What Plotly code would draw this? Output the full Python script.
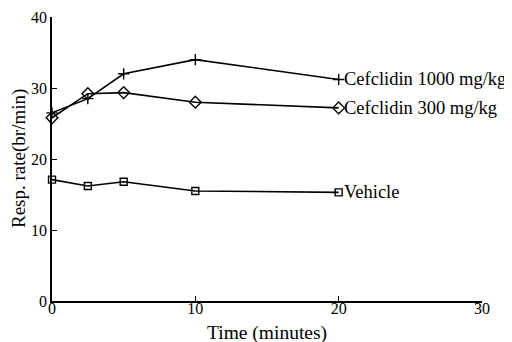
import plotly.graph_objects as go

time = [0, 2.5, 5, 10, 20]
cef1000 = [26.5, 28.5, 32.0, 34.0, 31.2]
cef300 = [25.8, 29.2, 29.35, 28.0, 27.2]
vehicle = [17.1, 16.2, 16.8, 15.5, 15.3]
names = ["Cefclidin 1000 mg/kg", "Cefclidin 300 mg/kg", "Vehicle"]
x_ticks = [0, 10, 20, 30]
y_ticks = [0, 10, 20, 30, 40]

FONT = "Liberation Serif"
fig = go.Figure()
series = [
    (cef1000, "cross-thin-open", 8),
    (cef300, "diamond-open", 9),
    (vehicle, "square-open", 7),
]
for (vals, sym, sz), nm in zip(series, names):
    fig.add_trace(go.Scatter(
        x=time, y=vals, mode="lines+markers", name=nm,
        line=dict(color="black", width=1.6),
        marker=dict(symbol=sym, size=sz, color="black",
                    line=dict(color="black", width=1.4)),
        showlegend=False, cliponaxis=False,
    ))
    fig.add_annotation(x=time[-1], y=vals[-1], text=nm, showarrow=False,
                       xanchor="left", yanchor="middle", xshift=3,
                       font=dict(family=FONT, size=18.5, color="black"))

fig.add_annotation(xref="paper", yref="paper", x=0.5, y=0, yshift=-32,
                   xanchor="center", yanchor="middle", showarrow=False,
                   text="Time (minutes)",
                   font=dict(family=FONT, size=19.5, color="black"))
fig.add_annotation(xref="paper", yref="paper", x=0, y=0.5, xshift=-33,
                   xanchor="center", yanchor="middle", showarrow=False,
                   textangle=-90, text="Resp. rate(br/min)",
                   font=dict(family=FONT, size=19, color="black"))

# page body has an 8px default margin; figure is sized to compensate
fig.update_layout(
    width=504, height=334,
    margin=dict(l=44, r=30, t=9, b=41),
    paper_bgcolor="white", plot_bgcolor="white",
    font=dict(family=FONT, size=16, color="black"),
)
fig.update_xaxes(range=[0, 30], tickvals=x_ticks, ticks="inside", ticklen=5,
                 showline=True, linecolor="black", linewidth=1.5,
                 tickcolor="black", tickwidth=1.2, showgrid=False, zeroline=False,
                 automargin=False, tickfont=dict(size=16), ticklabelstandoff=-8)
fig.update_yaxes(range=[0, 40], tickvals=y_ticks, ticks="inside", ticklen=5,
                 showline=True, linecolor="black", linewidth=1.5,
                 tickcolor="black", tickwidth=1.2, showgrid=False, zeroline=False,
                 automargin=False, tickfont=dict(size=16))
fig.write_html("out.html")
